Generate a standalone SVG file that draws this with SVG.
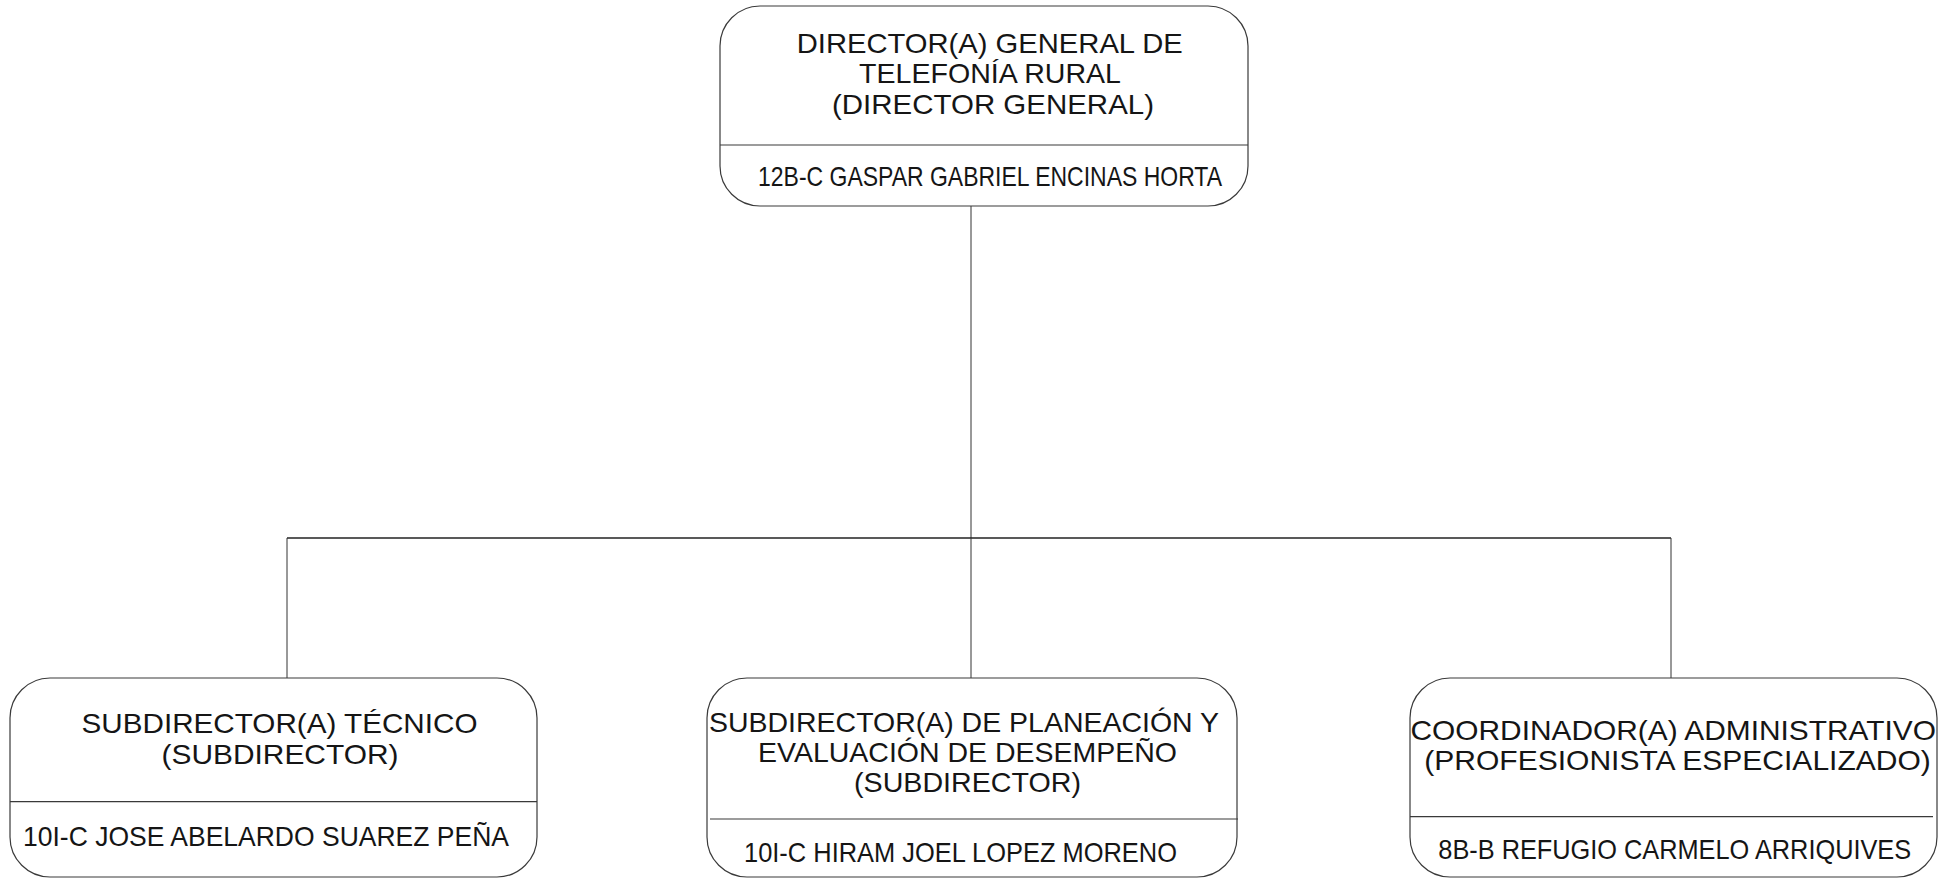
<svg xmlns="http://www.w3.org/2000/svg" width="1948" height="878" viewBox="0 0 1948 878">
<style>
.box{fill:#fff;stroke:#3a3a3a;stroke-width:1.2}
.div{stroke:#3a3a3a;stroke-width:1.2}
.conn{stroke:#333;stroke-width:1;fill:none}
.bar{stroke:#222;stroke-width:1.6}
text{font-family:"Liberation Sans",Arial,sans-serif;fill:#151515}
.t{font-size:27.5px}
.n{font-size:28px}
</style>
<rect width="1948" height="878" fill="#fff"/>
<g id="connectors">
<line class="conn" x1="971" y1="206" x2="971" y2="538"/>
<line class="bar" x1="287" y1="538" x2="1671" y2="538"/>
<line class="conn" x1="287" y1="538" x2="287" y2="678"/>
<line class="conn" x1="971" y1="538" x2="971" y2="678"/>
<line class="conn" x1="1671" y1="538" x2="1671" y2="678"/>
</g>
<g id="node-director">
<rect class="box" x="720" y="6" width="528" height="200" rx="40" ry="40"/>
<line class="div" x1="720" y1="145" x2="1248" y2="145"/>
<text class="t" x="796.7" y="52.7" textLength="386" lengthAdjust="spacingAndGlyphs">DIRECTOR(A) GENERAL DE</text>
<text class="t" x="859" y="83" textLength="262" lengthAdjust="spacingAndGlyphs">TELEFONÍA RURAL</text>
<text class="t" x="832" y="113.5" textLength="322" lengthAdjust="spacingAndGlyphs">(DIRECTOR GENERAL)</text>
<text class="n" x="758" y="185.5" textLength="464" lengthAdjust="spacingAndGlyphs">12B-C GASPAR GABRIEL ENCINAS HORTA</text>
</g>
<g id="node-tecnico">
<rect class="box" x="10" y="678" width="527" height="199" rx="40" ry="40"/>
<line class="div" x1="10" y1="801.7" x2="537" y2="801.7"/>
<text class="t" x="81.5" y="733.3" textLength="396" lengthAdjust="spacingAndGlyphs">SUBDIRECTOR(A) TÉCNICO</text>
<text class="t" x="161.5" y="763.5" textLength="237" lengthAdjust="spacingAndGlyphs">(SUBDIRECTOR)</text>
<text class="n" x="23" y="845.7" textLength="486" lengthAdjust="spacingAndGlyphs">10I-C JOSE ABELARDO SUAREZ PEÑA</text>
</g>
<g id="node-planeacion">
<rect class="box" x="707" y="678" width="530" height="199" rx="40" ry="40"/>
<line class="div" x1="710" y1="819" x2="1238" y2="819"/>
<text class="t" x="709" y="731.7" textLength="510" lengthAdjust="spacingAndGlyphs">SUBDIRECTOR(A) DE PLANEACIÓN Y</text>
<text class="t" x="758" y="761.7" textLength="419" lengthAdjust="spacingAndGlyphs">EVALUACIÓN DE DESEMPEÑO</text>
<text class="t" x="854" y="791.7" textLength="227" lengthAdjust="spacingAndGlyphs">(SUBDIRECTOR)</text>
<text class="n" x="744" y="862" textLength="433" lengthAdjust="spacingAndGlyphs">10I-C HIRAM JOEL LOPEZ MORENO</text>
</g>
<g id="node-coordinador">
<rect class="box" x="1410" y="678" width="527" height="199" rx="40" ry="40"/>
<line class="div" x1="1410" y1="816.7" x2="1933" y2="816.7"/>
<text class="t" x="1410.5" y="740" textLength="525.5" lengthAdjust="spacingAndGlyphs">COORDINADOR(A) ADMINISTRATIVO</text>
<text class="t" x="1424.3" y="770" textLength="506.5" lengthAdjust="spacingAndGlyphs">(PROFESIONISTA ESPECIALIZADO)</text>
<text class="n" transform="translate(1438.3,858.5) scale(0.905,1)" x="0" y="0">8B-B REFUGIO CARMELO ARRIQUIVES</text>
</g>
</svg>
